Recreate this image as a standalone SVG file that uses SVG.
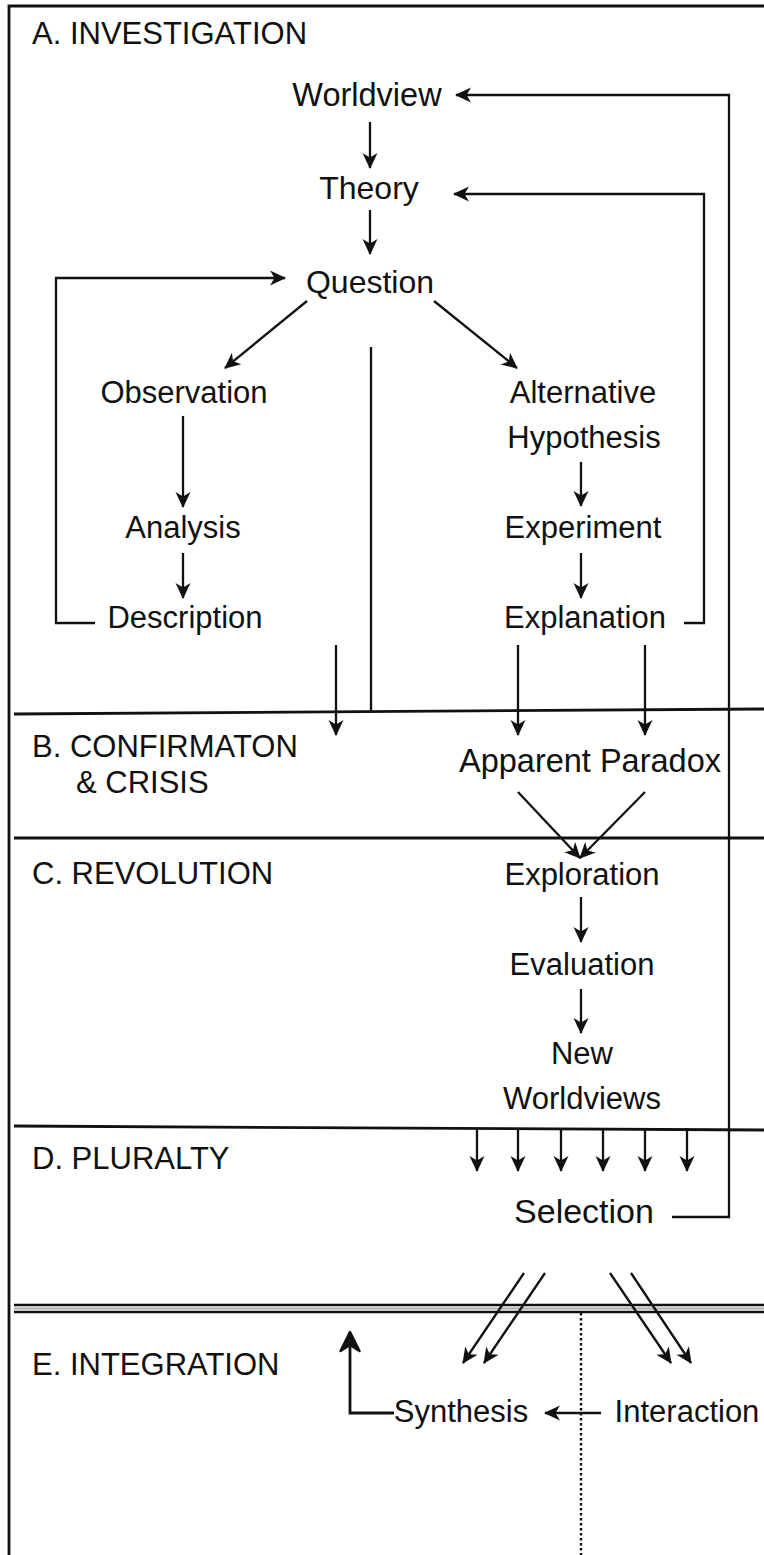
<svg xmlns="http://www.w3.org/2000/svg" width="764" height="1555" viewBox="0 0 764 1555">
<style>
text{font-family:"Liberation Sans",Arial,Helvetica,sans-serif;font-size:31px;fill:#111}
.c{text-anchor:middle}
.ln{fill:none;stroke:#111;stroke-width:2.3}
.ar{fill:none;stroke:#111;stroke-width:2.3;marker-end:url(#ah)}
.fr{fill:none;stroke:#111;stroke-width:2.8}
</style>
<defs>
<marker id="ah" markerUnits="userSpaceOnUse" viewBox="-18 -10 20 20" refX="0" refY="0" markerWidth="20" markerHeight="20" orient="auto">
<path d="M1,0 L-15,-7.5 L-10.5,0 L-15,7.5 Z" fill="#111"/>
</marker>
</defs>

<g id="frame">
<path class="fr" d="M9,1555 L9,6 L764,6"/>
<path class="fr" d="M14,714 L764,709"/>
<path class="fr" d="M14,838 L764,838"/>
<path class="fr" d="M14,1126 L764,1130"/>
<line x1="14" y1="1305" x2="764" y2="1305" stroke="#111" stroke-width="2.4"/>
<line x1="14" y1="1308.5" x2="764" y2="1308.5" stroke="#aaa" stroke-width="2.2"/>
<line x1="14" y1="1312" x2="764" y2="1312" stroke="#111" stroke-width="2.4"/>
<line x1="581" y1="1313" x2="581" y2="1555" stroke="#111" stroke-width="2.4" stroke-dasharray="2.5,2.5"/>
</g>

<g id="section-labels">
<text x="32" y="44">A. INVESTIGATION</text>
<text x="32" y="757">B. CONFIRMATON</text>
<text x="76" y="793">&amp; CRISIS</text>
<text x="32" y="884">C. REVOLUTION</text>
<text x="32" y="1169">D. PLURALTY</text>
<text x="32" y="1375">E. INTEGRATION</text>
</g>

<g id="node-worldview"><text class="c" x="367" y="106" style="font-size:32.5px">Worldview</text></g>
<g id="node-theory"><text class="c" x="369" y="199" style="font-size:32px">Theory</text></g>
<g id="node-question"><text class="c" x="370" y="293" style="font-size:32px">Question</text></g>
<g id="node-observation"><text class="c" x="184" y="403">Observation</text></g>
<g id="node-analysis"><text class="c" x="183" y="538">Analysis</text></g>
<g id="node-description"><text class="c" x="185" y="628">Description</text></g>
<g id="node-alt-hypothesis"><text class="c" x="583" y="403">Alternative</text><text class="c" x="584" y="448">Hypothesis</text></g>
<g id="node-experiment"><text class="c" x="583" y="538">Experiment</text></g>
<g id="node-explanation"><text class="c" x="585" y="628">Explanation</text></g>
<g id="node-paradox"><text class="c" x="590" y="772" style="font-size:32.5px">Apparent Paradox</text></g>
<g id="node-exploration"><text class="c" x="582" y="885">Exploration</text></g>
<g id="node-evaluation"><text class="c" x="582" y="975">Evaluation</text></g>
<g id="node-new-worldviews"><text class="c" x="582" y="1064">New</text><text class="c" x="582" y="1109">Worldviews</text></g>
<g id="node-selection"><text class="c" x="584" y="1223" style="font-size:34px">Selection</text></g>
<g id="node-synthesis"><text class="c" x="461" y="1422">Synthesis</text></g>
<g id="node-interaction"><text class="c" x="687" y="1422">Interaction</text></g>

<g id="connectors">
<line class="ar" x1="370" y1="122" x2="370" y2="168"/>
<line class="ar" x1="370" y1="210" x2="370" y2="254"/>
<path class="ar" d="M95,623 L56,623 L56,278 L285,278"/>
<path class="ar" d="M684,623 L704,623 L704,194 L454,194"/>
<path class="ar" d="M672,1217 L729,1217 L729,95 L456,95"/>
<line class="ar" x1="307" y1="301" x2="225" y2="368"/>
<line class="ar" x1="434" y1="301" x2="517" y2="368"/>
<line class="ln" x1="371" y1="347" x2="371" y2="713"/>
<line class="ar" x1="183" y1="416" x2="183" y2="507"/>
<line class="ar" x1="183" y1="553" x2="183" y2="598"/>
<line class="ar" x1="581" y1="462" x2="581" y2="506"/>
<line class="ar" x1="581" y1="553" x2="581" y2="598"/>
<line class="ar" x1="336" y1="645" x2="336" y2="735"/>
<line class="ar" x1="518" y1="645" x2="518" y2="735"/>
<line class="ar" x1="645" y1="645" x2="645" y2="735"/>
<line class="ar" x1="518" y1="792" x2="580" y2="858"/>
<line class="ar" x1="645" y1="792" x2="580" y2="858"/>
<line class="ar" x1="581" y1="897" x2="581" y2="942"/>
<line class="ar" x1="581" y1="989" x2="581" y2="1033"/>
<line class="ar" x1="477" y1="1128" x2="477" y2="1171"/>
<line class="ar" x1="518" y1="1128" x2="518" y2="1171"/>
<line class="ar" x1="561" y1="1128" x2="561" y2="1171"/>
<line class="ar" x1="603" y1="1128" x2="603" y2="1171"/>
<line class="ar" x1="645" y1="1128" x2="645" y2="1171"/>
<line class="ar" x1="687" y1="1128" x2="687" y2="1171"/>
<line class="ar" x1="524" y1="1273" x2="463" y2="1363"/>
<line class="ar" x1="545" y1="1273" x2="484" y2="1363"/>
<line class="ar" x1="610" y1="1273" x2="671" y2="1363"/>
<line class="ar" x1="631" y1="1273" x2="691" y2="1363"/>
<line class="ar" x1="601" y1="1413" x2="545" y2="1413"/>
<path class="ln" d="M394,1413 L350,1413 L350,1336" style="stroke-width:2.8"/>
<path d="M350,1332 L340.5,1351 L350,1345 L359.5,1351 Z" fill="#111" stroke="#111" stroke-width="2.5" stroke-linejoin="round"/>
</g>
</svg>
